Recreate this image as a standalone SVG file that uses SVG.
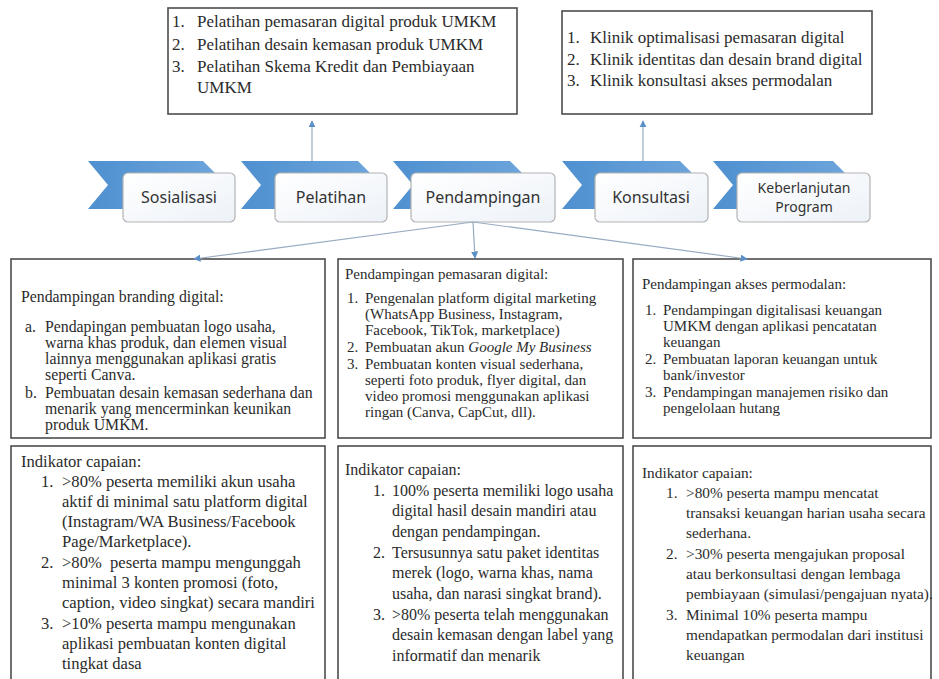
<svg xmlns="http://www.w3.org/2000/svg" width="939" height="679" viewBox="0 0 939 679">
  <defs>
    <style>
      .box { fill: #ffffff; stroke: #4d4d4d; stroke-width: 1.6; }
      .t { font-family: "Liberation Serif", "Times New Roman", serif; fill: #2b2b2b; }
      .t17 { font-size: 17px; }
      .t15 { font-size: 15px; }
      .t158 { font-size: 15.8px; }
      .t16 { font-size: 16px; }
      .tl { font-size: 16.6px; }
      .tr { font-size: 15.3px; }
      .chev { fill: url(#chevFill); }
      .lbl { fill: url(#lblFill); stroke: #b3b3b3; stroke-width: 1.2; }
      .lt { font-family: "Noto Sans", "Open Sans", sans-serif; font-size: 16px; fill: #333333; text-anchor: middle; }
      .lt2 { font-size: 14px; }
      .conn { fill: none; stroke: #97abc2; stroke-width: 1.2; }
    </style>
    <linearGradient id="chevFill" x1="0" y1="0" x2="1" y2="0">
      <stop offset="0" stop-color="#4f90d0"/>
      <stop offset="1" stop-color="#6fa6dc"/>
    </linearGradient>
    <linearGradient id="lblFill" x1="0" y1="0" x2="1" y2="1">
      <stop offset="0" stop-color="#ffffff"/>
      <stop offset="1" stop-color="#edf2f8"/>
    </linearGradient>
    <marker id="tip" viewBox="0 0 10 10" refX="9" refY="5" markerWidth="6" markerHeight="6" orient="auto">
      <path d="M0,0 L10,5 L0,10 z" fill="#5b8fc7"/>
    </marker>
  </defs>

  <rect width="939" height="679" fill="#ffffff"/>

  <!-- training topics -->
  <g id="pelatihan-topics">
    <rect class="box" x="168" y="8" width="349" height="106"/>
    <text class="t t17" x="172" y="27">1.</text><text class="t t17" x="197" y="27">Pelatihan pemasaran digital produk UMKM</text>
    <text class="t t17" x="172" y="50">2.</text><text class="t t17" x="197" y="50">Pelatihan desain kemasan produk UMKM</text>
    <text class="t t17" x="172" y="72">3.</text><text class="t t17" x="197" y="72">Pelatihan Skema Kredit dan Pembiayaan</text>
    <text class="t t17" x="197" y="93">UMKM</text>
  </g>

  <!-- consultation clinics -->
  <g id="konsultasi-topics">
    <rect class="box" x="562" y="11" width="310" height="103"/>
    <text class="t t17" x="567" y="43">1.</text><text class="t t17" x="590" y="43">Klinik optimalisasi pemasaran digital</text>
    <text class="t t17" x="567" y="65">2.</text><text class="t t17" x="590" y="65">Klinik identitas dan desain brand digital</text>
    <text class="t t17" x="567" y="86">3.</text><text class="t t17" x="590" y="86">Klinik konsultasi akses permodalan</text>
  </g>

  <!-- process steps -->
  <g id="step-sosialisasi">
    <path class="chev" d="M88,161 H203 L227,185 L203,209 H88 L108,185 Z"/>
    <rect class="lbl" x="123" y="173" width="112" height="49" rx="5"/>
    <text class="lt" x="179" y="203">Sosialisasi</text>
  </g>
  <g id="step-pelatihan">
    <path class="chev" d="M241,161 H358 L382,185 L358,209 H241 L261,185 Z"/>
    <rect class="lbl" x="275" y="173" width="112" height="49" rx="5"/>
    <text class="lt" x="331" y="203">Pelatihan</text>
  </g>
  <g id="step-pendampingan">
    <path class="chev" d="M393,161 H510 L534,185 L510,209 H393 L413,185 Z"/>
    <rect class="lbl" x="411" y="173" width="144" height="49" rx="5"/>
    <text class="lt" x="483" y="203">Pendampingan</text>
  </g>
  <g id="step-konsultasi">
    <path class="chev" d="M562,161 H680 L704,185 L680,209 H562 L582,185 Z"/>
    <rect class="lbl" x="595" y="173" width="113" height="49" rx="5"/>
    <text class="lt" x="651" y="203">Konsultasi</text>
  </g>
  <g id="step-keberlanjutan">
    <path class="chev" d="M713,161 H833 L857,185 L833,209 H713 L733,185 Z"/>
    <rect class="lbl" x="737" y="173" width="133" height="49" rx="5"/>
    <text class="lt lt2" x="804" y="193">Keberlanjutan</text>
    <text class="lt lt2" x="804" y="212">Program</text>
  </g>

  <!-- mentoring areas -->
  <g id="branding">
    <rect class="box" x="11" y="259" width="314" height="179"/>
    <text class="t t158" x="21" y="302">Pendampingan branding digital:</text>
    <text class="t t158" x="25" y="332">a.</text><text class="t t158" x="45" y="332">Pendapingan pembuatan logo usaha,</text>
    <text class="t t158" x="45" y="348">warna khas produk, dan elemen visual</text>
    <text class="t t158" x="45" y="364">lainnya menggunakan aplikasi gratis</text>
    <text class="t t158" x="45" y="380">seperti Canva.</text>
    <text class="t t158" x="25" y="398">b.</text><text class="t t158" x="45" y="398">Pembuatan desain kemasan sederhana dan</text>
    <text class="t t158" x="45" y="414">menarik yang mencerminkan keunikan</text>
    <text class="t t158" x="45" y="430">produk UMKM.</text>
  </g>
  <g id="pemasaran">
    <rect class="box" x="338" y="259" width="285" height="179"/>
    <text class="t t15" x="345" y="279">Pendampingan pemasaran digital:</text>
    <text class="t t15" x="347" y="303">1.</text><text class="t t15" x="365" y="303">Pengenalan platform digital marketing</text>
    <text class="t t15" x="365" y="319">(WhatsApp Business, Instagram,</text>
    <text class="t t15" x="365" y="335">Facebook, TikTok, marketplace)</text>
    <text class="t t15" x="347" y="352">2.</text><text class="t t15" x="365" y="352">Pembuatan akun <tspan font-style="italic">Google My Business</tspan></text>
    <text class="t t15" x="347" y="369">3.</text><text class="t t15" x="365" y="369">Pembuatan konten visual sederhana,</text>
    <text class="t t15" x="365" y="385">seperti foto produk, flyer digital, dan</text>
    <text class="t t15" x="365" y="401">video promosi menggunakan aplikasi</text>
    <text class="t t15" x="365" y="417">ringan (Canva, CapCut, dll).</text>
  </g>
  <g id="permodalan">
    <rect class="box" x="633" y="259" width="298" height="179"/>
    <text class="t t15" x="642" y="289">Pendampingan akses permodalan:</text>
    <text class="t t15" x="645" y="315">1.</text><text class="t t15" x="663" y="315">Pendampingan digitalisasi keuangan</text>
    <text class="t t15" x="663" y="331">UMKM dengan aplikasi pencatatan</text>
    <text class="t t15" x="663" y="347">keuangan</text>
    <text class="t t15" x="645" y="364">2.</text><text class="t t15" x="663" y="364">Pembuatan laporan keuangan untuk</text>
    <text class="t t15" x="663" y="380">bank/investor</text>
    <text class="t t15" x="645" y="397">3.</text><text class="t t15" x="663" y="397">Pendampingan manajemen risiko dan</text>
    <text class="t t15" x="663" y="413">pengelolaan hutang</text>
  </g>

  <!-- achievement indicators -->
  <g id="indikator-branding">
    <rect class="box" x="11" y="446" width="314" height="250"/>
    <text class="t tl" x="21" y="467">Indikator capaian:</text>
    <text class="t tl" x="41" y="487">1.</text><text class="t tl" x="62" y="487">&gt;80% peserta memiliki akun usaha</text>
    <text class="t tl" x="62" y="507">aktif di minimal satu platform digital</text>
    <text class="t tl" x="62" y="527">(Instagram/WA Business/Facebook</text>
    <text class="t tl" x="62" y="547">Page/Marketplace).</text>
    <text class="t tl" x="41" y="568">2.</text><text class="t tl" x="62" y="568" xml:space="preserve">&gt;80%  peserta mampu mengunggah</text>
    <text class="t tl" x="62" y="588">minimal 3 konten promosi (foto,</text>
    <text class="t tl" x="62" y="608">caption, video singkat) secara mandiri</text>
    <text class="t tl" x="41" y="629">3.</text><text class="t tl" x="62" y="629">&gt;10% peserta mampu mengunakan</text>
    <text class="t tl" x="62" y="649">aplikasi pembuatan konten digital</text>
    <text class="t tl" x="62" y="669">tingkat dasa</text>
  </g>
  <g id="indikator-pemasaran">
    <rect class="box" x="338" y="446" width="285" height="250"/>
    <text class="t t16" x="345" y="475">Indikator capaian:</text>
    <text class="t t16" x="373" y="496">1.</text><text class="t t16" x="392" y="496">100% peserta memiliki logo usaha</text>
    <text class="t t16" x="392" y="516">digital hasil desain mandiri atau</text>
    <text class="t t16" x="392" y="537">dengan pendampingan.</text>
    <text class="t t16" x="373" y="558">2.</text><text class="t t16" x="392" y="558">Tersusunnya satu paket identitas</text>
    <text class="t t16" x="392" y="578">merek (logo, warna khas, nama</text>
    <text class="t t16" x="392" y="599">usaha, dan narasi singkat brand).</text>
    <text class="t t16" x="373" y="620">3.</text><text class="t t16" x="392" y="620">&gt;80% peserta telah menggunakan</text>
    <text class="t t16" x="392" y="640">desain kemasan dengan label yang</text>
    <text class="t t16" x="392" y="661">informatif dan menarik</text>
  </g>
  <g id="indikator-permodalan">
    <rect class="box" x="633" y="446" width="298" height="250"/>
    <text class="t tr" x="642" y="478">Indikator capaian:</text>
    <text class="t tr" x="666" y="498">1.</text><text class="t tr" x="686" y="498">&gt;80% peserta mampu mencatat</text>
    <text class="t tr" x="686" y="518">transaksi keuangan harian usaha secara</text>
    <text class="t tr" x="686" y="538">sederhana.</text>
    <text class="t tr" x="666" y="559">2.</text><text class="t tr" x="686" y="559">&gt;30% peserta mengajukan proposal</text>
    <text class="t tr" x="686" y="579">atau berkonsultasi dengan lembaga</text>
    <text class="t tr" x="686" y="599">pembiayaan (simulasi/pengajuan nyata).</text>
    <text class="t tr" x="666" y="620">3.</text><text class="t tr" x="686" y="620">Minimal 10% peserta mampu</text>
    <text class="t tr" x="686" y="640">mendapatkan permodalan dari institusi</text>
    <text class="t tr" x="686" y="660">keuangan</text>
  </g>

  <!-- connectors -->
  <g id="connectors">
    <path class="conn" d="M312,161 V121" marker-end="url(#tip)"/>
    <path class="conn" d="M643,161 V121" marker-end="url(#tip)"/>
    <path class="conn" d="M473,222 L194,259" marker-end="url(#tip)"/>
    <path class="conn" d="M473,222 L475,258" marker-end="url(#tip)"/>
    <path class="conn" d="M473,222 L747,259" marker-end="url(#tip)"/>
  </g>
</svg>
